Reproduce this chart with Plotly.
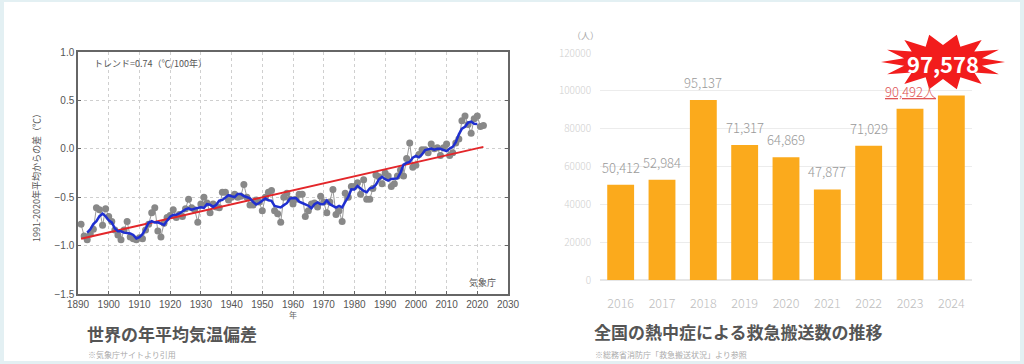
import numpy as np
import pandas as pd
import plotly.graph_objects as go

# ---------------- data: global annual temperature anomaly (JMA) ----------------
years = list(range(1891, 2023))
anomaly = [
    -0.78, -0.90, -0.94, -0.88, -0.83, -0.61, -0.63, -0.79, -0.62, -0.70,   # 1891-1900
    -0.75, -0.84, -0.89, -0.94, -0.84, -0.75, -0.91, -0.93, -0.94, -0.92,   # 1901-1910
    -0.93, -0.84, -0.78, -0.66, -0.61, -0.85, -0.91, -0.77, -0.71, -0.69,   # 1911-1920
    -0.63, -0.71, -0.68, -0.70, -0.62, -0.52, -0.61, -0.63, -0.76, -0.57,   # 1921-1930
    -0.50, -0.56, -0.66, -0.57, -0.60, -0.61, -0.45, -0.45, -0.53, -0.50,   # 1931-1940
    -0.47, -0.50, -0.49, -0.37, -0.50, -0.58, -0.58, -0.53, -0.55, -0.64,   # 1941-1950
    -0.50, -0.45, -0.43, -0.64, -0.67, -0.76, -0.50, -0.46, -0.52, -0.57,   # 1951-1960
    -0.52, -0.47, -0.47, -0.70, -0.64, -0.57, -0.56, -0.60, -0.49, -0.55,   # 1961-1970
    -0.66, -0.55, -0.42, -0.68, -0.64, -0.75, -0.46, -0.50, -0.39, -0.39,   # 1971-1980
    -0.35, -0.47, -0.32, -0.52, -0.52, -0.41, -0.27, -0.29, -0.36, -0.25,   # 1981-1990
    -0.28, -0.39, -0.36, -0.28, -0.22, -0.28, -0.10, 0.06, -0.19, -0.17,    # 1991-2000
    -0.06, -0.01, -0.01, -0.04, 0.05, 0.00, 0.01, -0.07, 0.01, 0.05,        # 2001-2010
    -0.07, -0.04, 0.06, 0.10, 0.29, 0.34, 0.25, 0.16, 0.31, 0.34,           # 2011-2020
    0.23, 0.24,                                                             # 2021-2022
]
trend_years = [1891, 2022]
trend_values = [-0.93, 0.02]

# ---------------- data: heatstroke ambulance transports ----------------
bar_years = ["2016", "2017", "2018", "2019", "2020", "2021", "2022", "2023", "2024"]
bar_values = [50412, 52984, 95137, 71317, 64869, 47877, 71029, 90492, 97578]
bar_labels = ["50,412", "52,984", "95,137", "71,317", "64,869", "47,877", "71,029", "<u>90,492人</u>", ""]
bar_label_colors = ["#9a9a9a"] * 7 + ["#e05555", "#9a9a9a"]
highlight_label = "97,578"

smooth = pd.Series(anomaly).rolling(5, center=True).mean()

W, H = 1024, 364
def px(x):
    return x / W
def py(y):
    return 1 - y / H

JP = "Noto Sans CJK JP"
LS = "Liberation Sans, Arial, sans-serif"

fig = go.Figure()

# left chart traces
fig.add_trace(go.Scatter(
    x=years, y=anomaly, mode="lines+markers",
    line=dict(color="#9a9a9a", width=1),
    marker=dict(color="#888888", size=7),
    xaxis="x", yaxis="y", showlegend=False, hoverinfo="skip"))
fig.add_trace(go.Scatter(
    x=trend_years, y=trend_values, mode="lines",
    line=dict(color="#e3262a", width=2),
    xaxis="x", yaxis="y", showlegend=False, hoverinfo="skip"))
fig.add_trace(go.Scatter(
    x=years, y=smooth, mode="lines",
    line=dict(color="#1f2fd0", width=2.5),
    xaxis="x", yaxis="y", showlegend=False, hoverinfo="skip"))

# right chart
fig.add_trace(go.Bar(
    x=bar_years, y=bar_values, width=0.65,
    marker=dict(color="#fbaa1c", line=dict(width=0)),
    xaxis="x2", yaxis="y2", showlegend=False, hoverinfo="skip"))

annotations = []
for i, (v, lab, col) in enumerate(zip(bar_values, bar_labels, bar_label_colors)):
    if lab:
        annotations.append(dict(
            x=i, y=v, xref="x2", yref="y2", text=lab, showarrow=False,
            xanchor="center", yanchor="bottom", yshift=6,
            font=dict(family=JP, size=13, color=col, weight=300)))

# starburst behind highlight value (decoration, positioned in paper space)
cx, cy = 943, 62
n = 14
ang = np.linspace(0, 2 * np.pi, 2 * n, endpoint=False)
rx = np.where(np.arange(2 * n) % 2 == 0, 62, 40)
ry = np.where(np.arange(2 * n) % 2 == 0, 28, 17)
sx = cx + rx * np.cos(ang)
sy = cy + ry * np.sin(ang)
path = "M " + " L ".join(f"{px(a):.5f},{py(b):.5f}" for a, b in zip(sx, sy)) + " Z"

shapes = [
    dict(type="rect", xref="paper", yref="paper", x0=px(4), x1=px(1020), y0=py(361), y1=py(2),
         fillcolor="white", line=dict(width=0), layer="below"),
    dict(type="path", xref="paper", yref="paper", path=path,
         fillcolor="#f21c1c", line=dict(width=0), layer="below"),
]


def note(x, y, text, size, color, xanchor="center", bold=False, angle=0, family=JP):
    return dict(x=px(x), y=py(y), xref="paper", yref="paper",
                xanchor=xanchor, yanchor="middle", textangle=angle,
                text=f"<b>{text}</b>" if bold else text, showarrow=False,
                font=dict(family=family, size=size, color=color))


annotations += [
    note(cx, cy + 1, highlight_label, 22, "white", bold=True),
    # left chart texts
    note(92, 63, "トレンド=0.74（℃/100年）", 9, "#555", xanchor="left"),
    note(498, 282, "気象庁", 9, "#555", xanchor="right"),
    note(293, 314, "年", 8, "#666"),
    note(36, 176, "1991-2020年平均からの差（℃）", 9, "#555", angle=-90),
    note(85, 333, "世界の年平均気温偏差", 17, "#555", xanchor="left", bold=True),
    note(86, 354, "※気象庁サイトより引用", 8, "#aaa", xanchor="left"),
    # right chart texts
    note(585, 36, "（人）", 9, "#aaa"),
    note(592, 331, "全国の熱中症による救急搬送数の推移", 17, "#555", xanchor="left", bold=True),
    note(593, 354, "※総務省消防庁「救急搬送状況」より参照", 8, "#aaa", xanchor="left"),
]

fig.update_layout(
    width=W, height=H,
    margin=dict(l=0, r=0, t=0, b=0, pad=0, autoexpand=False),
    paper_bgcolor="#e3f0f3",
    plot_bgcolor="rgba(0,0,0,0)",
    shapes=shapes,
    annotations=annotations,
    xaxis=dict(domain=[px(78), px(508)], range=[1890, 2030], anchor="y",
               tickvals=list(range(1890, 2031, 10)),
               showgrid=True, gridcolor="#cfcfcf", griddash="dot", gridwidth=1,
               showline=True, mirror=True, linecolor="#666", linewidth=1.5,
               ticks="inside", ticklen=3, tickcolor="#666",
               tickfont=dict(family=LS, size=10, color="#555"), zeroline=False),
    yaxis=dict(domain=[py(294), py(52)], range=[-1.5, 1.0], anchor="x",
               tickvals=[-1.5, -1.0, -0.5, 0.0, 0.5, 1.0], tickformat=".1f",
               showgrid=True, gridcolor="#cfcfcf", griddash="dot", gridwidth=1,
               showline=True, mirror="allticks", linecolor="#666", linewidth=1.5,
               ticks="inside", ticklen=3, tickcolor="#666",
               tickfont=dict(family=LS, size=10, color="#555"), zeroline=False),
    xaxis2=dict(domain=[px(600), px(972)], anchor="y2", type="category",
                range=[-0.5, 8.5],
                showgrid=False, showline=False, ticks="", ticklabelstandoff=14,
                tickfont=dict(family=JP, size=12.5, color="#bdbdbd", weight=300)),
    yaxis2=dict(domain=[py(280), py(53)], range=[0, 120000], anchor="x2",
                tickvals=list(range(0, 120001, 20000)), tickformat="d",
                showgrid=True, gridcolor="#ececec", gridwidth=1,
                zeroline=True, zerolinecolor="#e6e6e6", ticklabelstandoff=8,
                tickfont=dict(family=JP, size=10, color="#cfcfcf", weight=300)),
)

fig.write_html("out.html", config={"displayModeBar": False},
               post_script="document.body.style.margin='0';document.body.style.overflow='hidden';")
